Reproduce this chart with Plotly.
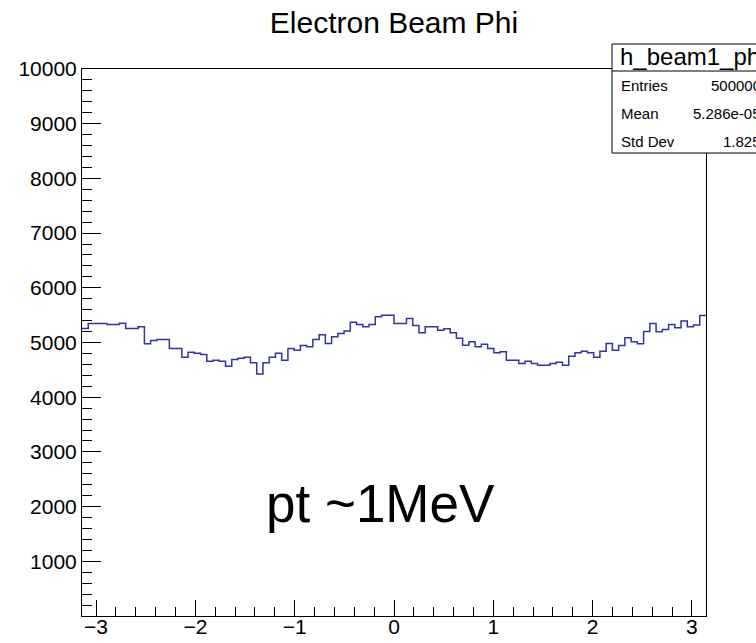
import numpy as np
import plotly.graph_objects as go

# Histogram h_beam1_phi: 100 bins over [-pi, pi]
counts = [
    5256, 5348, 5348, 5348, 5330, 5330, 5354, 5256, 5256, 5287,
    4976, 5037, 5055, 5055, 4890, 4890, 4731, 4823, 4805, 4780,
    4658, 4676, 4658, 4567, 4689, 4713, 4731, 4628, 4426, 4628,
    4731, 4805, 4676, 4890, 4860, 4945, 4921, 5055, 5140, 4982,
    5104, 5165, 5208, 5372, 5330, 5287, 5330, 5470, 5500, 5500,
    5348, 5348, 5440, 5311, 5177, 5287, 5287, 5226, 5250, 5177,
    5079, 4951, 5012, 4921, 4969, 4890, 4811, 4829, 4676, 4676,
    4615, 4658, 4615, 4585, 4585, 4615, 4640, 4585, 4750, 4811,
    4841, 4811, 4731, 4841, 4982, 4860, 4945, 5085, 5012, 4976,
    5202, 5348, 5195, 5238, 5330, 5269, 5391, 5287, 5318, 5494,
]
N_BINS = 100
X_MIN, X_MAX = -np.pi, np.pi

x_tick_vals = [-3, -2, -1, 0, 1, 2, 3]
y_tick_vals = [1000, 2000, 3000, 4000, 5000, 6000, 7000, 8000, 9000, 10000]
y_tick_text = [str(v) for v in y_tick_vals]

hist_name = "h_beam1_phi"
stats_labels = ["Entries", "Mean", "Std Dev"]
stats_values = ["500000", "5.286e-05", "1.825"]

edges = np.linspace(X_MIN, X_MAX, N_BINS + 1)

# canvas geometry (pixels)
W, H = 756, 643
L, R, T, B = 82, 50, 69, 27
PW, PH = W - L - R, H - T - B


def fx(px):
    return (px - L) / PW


def fy(py):
    return (H - B - py) / PH


FONT = "Liberation Sans, Arial, Helvetica, sans-serif"

fig = go.Figure()
fig.add_trace(go.Scatter(
    x=list(edges),
    y=counts + [counts[-1]],
    mode="lines",
    line=dict(shape="hv", color="#3333a6", width=1.5),
    hoverinfo="skip",
    showlegend=False,
))

axis_common = dict(
    showgrid=False, zeroline=False, showline=True, linecolor="black",
    linewidth=1, mirror=True, ticks="inside", tickcolor="black",
    tickwidth=1, automargin=False,
    tickfont=dict(family=FONT, size=21, color="black"),
)

fig.update_xaxes(
    range=[X_MIN, X_MAX], tickmode="array", tickvals=x_tick_vals,
    ticklen=16, ticklabelstandoff=-8,
    minor=dict(tickmode="linear", tick0=0, dtick=0.2, ticks="inside",
               ticklen=9, tickcolor="black", tickwidth=1),
    **axis_common,
)
fig.update_yaxes(
    range=[0, 10000], tickmode="array", tickvals=y_tick_vals,
    ticktext=y_tick_text, ticklen=19,
    minor=dict(tickmode="linear", tick0=0, dtick=200, ticks="inside",
               ticklen=10, tickcolor="black", tickwidth=1),
    **axis_common,
)

shapes = [
    # statistics box
    dict(type="rect", xref="paper", yref="paper",
         x0=fx(612), x1=fx(800), y0=fy(153), y1=fy(44),
         fillcolor="white", line=dict(color="black", width=1), layer="above"),
    dict(type="line", xref="paper", yref="paper",
         x0=fx(612), x1=fx(800), y0=fy(71), y1=fy(71),
         line=dict(color="black", width=1), layer="above"),
]

annotations = [
    dict(text=hist_name, xref="paper", yref="paper", x=fx(618), y=fy(57),
         xanchor="left", yanchor="middle", showarrow=False,
         font=dict(family=FONT, size=24, color="black")),
    dict(text="pt ~1MeV", xref="paper", yref="paper", x=fx(380), y=fy(503),
         xanchor="center", yanchor="middle", showarrow=False,
         font=dict(family=FONT, size=53, color="black")),
]
for i, (lab, val) in enumerate(zip(stats_labels, stats_values)):
    yc = 86 + i * 27.5
    annotations.append(dict(text=lab, xref="paper", yref="paper",
                            x=fx(619), y=fy(yc), xanchor="left",
                            yanchor="middle", showarrow=False,
                            font=dict(family=FONT, size=15, color="black")))
    annotations.append(dict(text=val, xref="paper", yref="paper",
                            x=fx(763), y=fy(yc), xanchor="right",
                            yanchor="middle", showarrow=False,
                            font=dict(family=FONT, size=15, color="black")))

fig.update_layout(
    width=W, height=H,
    margin=dict(l=L, r=R, t=T, b=B, pad=0),
    plot_bgcolor="white", paper_bgcolor="white",
    title=dict(text="Electron Beam Phi", x=0.5, xref="paper",
               y=1 - 22 / H, yref="container", yanchor="middle",
               xanchor="center",
               font=dict(family=FONT, size=30, color="black")),
    shapes=shapes,
    annotations=annotations,
)

fig.write_html("out.html")
